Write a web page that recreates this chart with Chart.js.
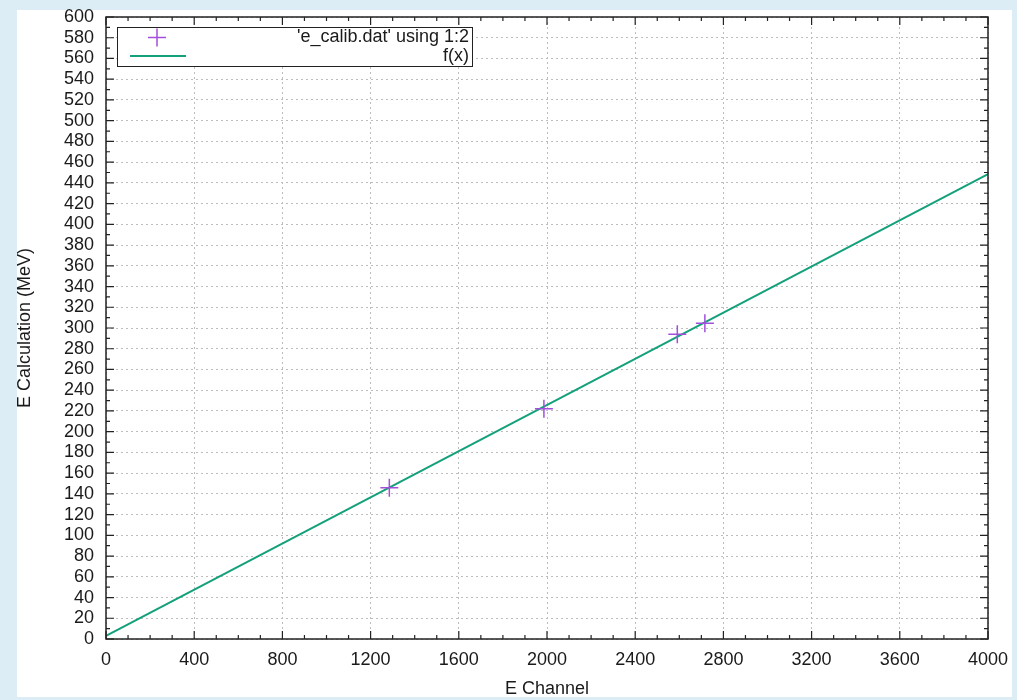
<!DOCTYPE html>
<html><head><meta charset="utf-8">
<script src="https://cdn.jsdelivr.net/npm/chart.js@4/dist/chart.umd.min.js"></script>
<style>html,body{margin:0;padding:0;background:#dcedf5;}#wrap{width:1017px;height:700px;position:relative}canvas{display:block}</style>
</head><body><div id="wrap"><canvas id="c" width="1017" height="700"></canvas></div>
<script>
// ---- data ----
const channels = [1285, 1986, 2591, 2716];      // E Channel (x)
const energies = [146, 222, 294, 304.5];        // E Calculation (MeV)
const fitX = [0, 4000];                         // f(x) line endpoints (x)
const fitY = [3, 448.5];                        // f(x) line endpoints (y)
const xTickValues = [0, 400, 800, 1200, 1600, 2000, 2400, 2800, 3200, 3600, 4000];
const yTickValues = [0, 20, 40, 60, 80, 100, 120, 140, 160, 180, 200, 220, 240, 260, 280, 300,
                     320, 340, 360, 380, 400, 420, 440, 460, 480, 500, 520, 540, 560, 580, 600];
const seriesLabels = ["'e_calib.dat' using 1:2", "f(x)"];
const axisTitles = { x: "E Channel", y: "E Calculation (MeV)" };

const FONT = "'Liberation Sans', Arial, Helvetica, sans-serif";
const PURPLE = '#a24fdc';
const GREEN = '#14a07b';
const TEXT = '#1a1a1a';

const bgPlugin = {
  id: 'bg',
  beforeDraw(chart) {
    const ctx = chart.ctx;
    ctx.save();
    ctx.fillStyle = '#dcedf5';
    ctx.fillRect(0, 0, chart.width, chart.height);
    ctx.fillStyle = '#ffffff';
    ctx.fillRect(17, 10, 995, 687);
    ctx.restore();
  }
};

const framePlugin = {
  id: 'frame',
  afterDraw(chart) {
    const ctx = chart.ctx;
    const a = chart.chartArea;
    const xs = chart.scales.x, ys = chart.scales.y;
    ctx.save();
    ctx.strokeStyle = '#222';
    ctx.lineWidth = 1.2;
    ctx.beginPath();
    for (let i = 0; i < xTickValues.length; i++) {
      const v = xTickValues[i];
      const px = xs.getPixelForValue(v);
      ctx.moveTo(px, a.bottom); ctx.lineTo(px, a.bottom - 8);
      ctx.moveTo(px, a.top); ctx.lineTo(px, a.top + 8);
      if (i < xTickValues.length - 1) {
        const step = (xTickValues[i + 1] - v) / 4;
        for (let k = 1; k < 4; k++) {
          const mx = xs.getPixelForValue(v + step * k);
          ctx.moveTo(mx, a.bottom); ctx.lineTo(mx, a.bottom - 4);
          ctx.moveTo(mx, a.top); ctx.lineTo(mx, a.top + 4);
        }
      }
    }
    for (let i = 0; i < yTickValues.length; i++) {
      const v = yTickValues[i];
      const py = ys.getPixelForValue(v);
      ctx.moveTo(a.left, py); ctx.lineTo(a.left + 8, py);
      ctx.moveTo(a.right, py); ctx.lineTo(a.right - 8, py);
      if (i < yTickValues.length - 1) {
        const my = ys.getPixelForValue((v + yTickValues[i + 1]) / 2);
        ctx.moveTo(a.left, my); ctx.lineTo(a.left + 4, my);
        ctx.moveTo(a.right, my); ctx.lineTo(a.right - 4, my);
      }
    }
    ctx.stroke();
    ctx.lineWidth = 1.5;
    ctx.strokeRect(a.left, a.top, a.right - a.left, a.bottom - a.top);

    // legend
    ctx.fillStyle = '#fff';
    ctx.fillRect(117, 27, 355, 39);
    ctx.strokeStyle = '#222';
    ctx.lineWidth = 1;
    ctx.strokeRect(117.5, 27.5, 355, 39);
    ctx.strokeStyle = PURPLE;
    ctx.lineWidth = 1.5;
    ctx.beginPath();
    ctx.moveTo(157 - 9, 37.5); ctx.lineTo(157 + 9, 37.5);
    ctx.moveTo(157, 28.5); ctx.lineTo(157, 46.5);
    ctx.stroke();
    ctx.strokeStyle = GREEN;
    ctx.lineWidth = 2;
    ctx.beginPath();
    ctx.moveTo(130, 56); ctx.lineTo(186, 56);
    ctx.stroke();
    ctx.fillStyle = TEXT;
    ctx.font = '18px ' + FONT;
    ctx.textAlign = 'right';
    ctx.textBaseline = 'middle';
    ctx.fillText(chart.data.datasets[0].label, 469, 37);
    ctx.fillText(chart.data.datasets[1].label, 469, 56);
    ctx.restore();
  }
};

new Chart(document.getElementById('c'), {
  type: 'scatter',
  data: {
    datasets: [
      {
        label: seriesLabels[0],
        data: channels.map((x, i) => ({ x: x, y: energies[i] })),
        pointStyle: 'cross',
        pointRadius: 9,
        pointBorderWidth: 1.5,
        pointBorderColor: PURPLE,
        pointBackgroundColor: PURPLE,
        showLine: false,
        order: 0
      },
      {
        label: seriesLabels[1],
        data: fitX.map((x, i) => ({ x: x, y: fitY[i] })),
        showLine: true,
        borderColor: GREEN,
        borderWidth: 2,
        pointRadius: 0,
        fill: false,
        order: 1
      }
    ]
  },
  options: {
    responsive: false,
    animation: false,
    events: [],
    layout: { padding: { left: 0, top: 17, right: 29, bottom: 0 } },
    plugins: { legend: { display: false }, tooltip: { enabled: false } },
    scales: {
      x: {
        type: 'linear', min: 0, max: 4000,
        afterBuildTicks(s) { s.ticks = xTickValues.map(v => ({ value: v })); },
        afterFit(s) { s.height = 61; s.paddingLeft = 0; s.paddingRight = 0; },
        ticks: { color: TEXT, font: { family: FONT, size: 18 }, padding: 10, maxRotation: 0, autoSkip: false,
                 callback: v => String(v) },
        grid: { color: '#bdbdbd', lineWidth: 1, drawTicks: false },
        border: { display: false, dash: [2, 3] },
        title: { display: true, text: axisTitles.x, color: TEXT, font: { family: FONT, size: 18 }, padding: { top: 0, bottom: 0 } }
      },
      y: {
        type: 'linear', min: 0, max: 600,
        afterBuildTicks(s) { s.ticks = yTickValues.map(v => ({ value: v })); },
        afterFit(s) { s.width = 106; s.paddingTop = 0; s.paddingBottom = 0; },
        ticks: { color: TEXT, font: { family: FONT, size: 18 }, padding: 12, autoSkip: false,
                 callback: v => String(v) },
        grid: { color: '#bdbdbd', lineWidth: 1, drawTicks: false },
        border: { display: false, dash: [2, 3] },
        title: { display: true, text: axisTitles.y, color: TEXT, font: { family: FONT, size: 18 }, padding: { top: 14, bottom: 0 } }
      }
    }
  },
  plugins: [bgPlugin, framePlugin]
});
</script>
</body></html>
